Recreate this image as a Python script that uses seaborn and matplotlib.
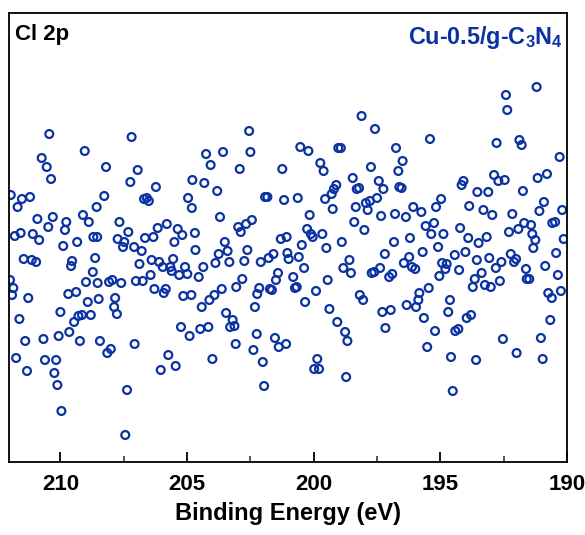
import matplotlib
matplotlib.use("Agg")
import matplotlib.pyplot as plt
import seaborn as sns
import pandas as pd
from matplotlib.ticker import MultipleLocator

# Binding energy (eV) of each measured point
energy = [
211.99,211.96,211.91,211.86,211.80,211.75,211.69,211.62,211.57,211.52,211.45,211.39,211.32,211.27,211.20,211.13,211.09,
210.96,210.91,210.84,210.74,210.67,210.61,210.54,210.48,210.44,210.37,210.30,210.24,210.17,210.12,210.07,210.00,
209.96,209.89,209.82,209.77,209.69,209.65,209.58,209.54,209.46,209.38,209.34,209.29,209.23,209.15,209.11,209.04,
208.99,208.92,208.88,208.80,208.72,208.70,208.63,208.57,208.55,208.53,208.49,208.44,
208.27,208.20,208.15,208.08,208.01,207.95,207.88,207.84,207.77,207.74,207.67,207.60,207.53,207.48,207.44,207.37,
207.32,207.24,207.19,207.09,207.07,207.02,206.95,206.88,206.79,206.75,206.70,206.66,206.59,206.51,206.44,206.40,
206.33,206.29,206.23,206.16,206.10,206.04,205.96,205.92,205.84,205.80,205.74,205.66,205.61,205.55,205.50,205.45,
205.37,205.31,205.24,205.19,205.15,205.08,204.99,204.96,204.90,204.83,204.81,204.79,204.69,204.67,
204.54,204.48,204.42,204.36,204.32,204.25,204.16,204.12,204.07,204.00,203.92,203.88,203.81,203.75,203.70,203.63,
203.58,203.51,203.46,203.40,203.33,203.30,203.20,203.13,203.08,203.06,202.98,202.92,202.88,202.82,202.74,202.67,
202.62,202.55,202.50,202.44,202.38,202.32,202.25,202.23,202.15,202.09,202.01,201.96,201.92,201.83,201.78,201.73,
201.65,201.59,201.53,201.49,201.41,201.38,201.30,201.24,201.17,201.09,201.07,201.04,200.99,
200.81,200.74,200.67,200.63,200.59,200.53,200.47,200.38,200.34,200.26,200.21,200.16,200.11,200.04,199.98,199.91,
199.86,199.79,199.74,199.66,199.61,199.55,199.50,199.45,199.38,199.29,199.25,199.20,199.11,199.07,199.03,198.93,
198.89,198.83,198.76,198.72,198.67,198.59,198.53,198.46,198.40,198.34,198.30,198.21,198.18,198.11,198.05,198.00,
197.94,197.87,197.78,197.74,197.71,197.61,197.58,197.50,197.43,197.38,197.34,197.29,197.25,197.19,197.17,
197.02,196.96,196.90,196.83,196.79,196.75,196.66,196.62,196.53,196.49,196.44,196.36,196.33,196.23,196.20,196.12,
196.07,195.99,195.96,195.87,195.83,195.75,195.70,195.65,195.58,195.52,195.46,195.41,195.36,195.25,195.21,195.17,
195.09,195.04,194.97,194.93,194.88,194.80,194.75,194.69,194.62,194.58,194.51,194.43,194.41,194.29,194.26,194.22,
194.16,194.09,194.01,193.96,193.90,193.86,193.79,193.72,193.64,193.59,193.56,193.54,193.49,
193.37,193.30,193.24,193.17,193.11,193.07,193.01,192.95,192.88,192.81,192.78,192.71,192.65,192.59,192.53,192.46,
192.41,192.36,192.29,192.22,192.16,192.09,192.01,191.99,191.92,191.88,191.79,191.74,191.69,191.62,191.59,191.49,
191.42,191.37,191.33,191.25,191.20,191.16,191.09,191.03,190.96,190.91,190.86,190.79,190.74,190.66,190.60,190.58,
190.47,190.43,190.36,190.29,190.24,190.19,190.13,
]

# Intensity (counts, arbitrary offset) of each point
intensity = [
1185,1270,1170,1177,1229,1107,1258,1146,1232,1266,1206,1124,1094,1167,1268,1205,1231,
1203,1246,1225,1307,1126,1105,1298,1238,1331,1286,1248,1092,1105,1080,1129,1153,
1054,1219,1235,1243,1171,1133,1199,1204,1143,1173,1223,1149,1124,1150,1250,1314,
1183,1163,1243,1150,1193,1228,1207,1258,1228,1182,1166,1124,
1269,1298,1112,1183,1116,1185,1158,1167,1151,1226,1243,1182,1218,1223,1030,1075,
1233,1283,1328,1218,1121,1184,1295,1201,1214,1184,1266,1227,1267,1264,1190,1205,
1228,1176,1278,1237,1203,1095,1198,1172,1176,1241,1110,1198,1194,1206,1223,1099,
1236,1190,1138,1230,1169,1198,1191,1267,1129,1170,1257,1285,1232,1215,
1188,1136,1158,1198,1282,1311,1138,1165,1300,1106,1170,1202,1274,1211,1248,1176,
1313,1223,1152,1214,1203,1138,1145,1139,1121,1178,1238,1296,1233,1186,1204,1241,
1215,1334,1313,1245,1115,1158,1131,1171,1177,1203,1103,1079,1268,1268,1207,1176,
1175,1211,1127,1185,1192,1118,1226,1296,1265,1121,1228,1212,1206,
1188,1177,1178,1267,1208,1318,1220,1197,1163,1236,1314,1250,1231,1228,1096,1174,
1106,1096,1302,1231,1294,1266,1217,1185,1156,1271,1256,1276,1280,1143,1317,1317,
1223,1197,1133,1088,1124,1205,1192,1287,1243,1258,1276,1277,1170,1349,1165,1235,
1262,1255,1264,1298,1192,1193,1336,1267,1284,1197,1249,1153,1276,1211,1137,
1188,1155,1191,1223,1251,1317,1294,1278,1277,1304,1202,1248,1160,1208,1227,1198,
1258,1196,1158,1165,1172,1253,1213,1147,1239,1118,1177,1326,1231,1242,1134,1258,
1218,1189,1266,1202,1231,1196,1201,1153,1165,1108,1074,1210,1134,1136,1195,1237,
1280,1284,1213,1147,1227,1259,1150,1178,1186,1105,1205,1273,1222,
1192,1255,1180,1228,1273,1207,1178,1250,1290,1197,1322,1284,1184,1203,1126,1285,
1370,1355,1233,1211,1251,1203,1206,1112,1236,1325,1320,1274,1242,1196,1186,1186,
1240,1231,1217,1225,1378,1287,1254,1127,1106,1263,1199,1291,1172,1145,1167,1242,
1243,1212,1190,1308,1174,1255,1226,
]

x_ticks = [210, 205, 200, 195, 190]
x_label = "Binding Energy (eV)"
panel_label = "Cl 2p"
sample_label = "Cu-0.5/g-C$_3$N$_4$"

blue = "#0b32a3"

sns.set_theme(style="white")
plt.rcParams["font.family"] = ["Liberation Sans", "DejaVu Sans"]
plt.rcParams["font.weight"] = "bold"
plt.rcParams["text.color"] = "black"
plt.rcParams["axes.labelcolor"] = "black"
plt.rcParams["mathtext.fontset"] = "custom"
plt.rcParams["mathtext.rm"] = "Liberation Sans:bold"
plt.rcParams["mathtext.it"] = "Liberation Sans:bold"
plt.rcParams["mathtext.bf"] = "Liberation Sans:bold"

df = pd.DataFrame({"energy": energy, "intensity": intensity})

fig = plt.figure(figsize=(5.85, 5.35), dpi=100)
ax = fig.add_axes([9 / 585, 73 / 535, 558 / 585, 449 / 535])

sns.scatterplot(data=df, x="energy", y="intensity", ax=ax, marker="o", s=32,
                facecolor="none", edgecolor=blue, linewidth=1.6, legend=False)

ax.set_xlim(212.03, 190)
ax.set_ylim(1003, 1452)
ax.set_xticks(x_ticks)
ax.xaxis.set_minor_locator(MultipleLocator(2.5))
ax.set_yticks([])
ax.tick_params(axis="x", which="major", direction="in", length=7, width=1.3,
               pad=9, labelsize=16, colors="black", bottom=True, top=False)
ax.tick_params(axis="x", which="minor", direction="in", length=4, width=1.1,
               bottom=True, top=False)
for lab in ax.get_xticklabels():
    lab.set_fontweight("bold")
for sp in ax.spines.values():
    sp.set_color("black")
    sp.set_linewidth(1.3)

ax.set_xlabel(x_label, fontsize=17, fontweight="bold", labelpad=5, color="black")
ax.set_ylabel("")

ax.text(0.01, 0.976, panel_label, transform=ax.transAxes, ha="left", va="top",
        fontsize=16, fontweight="bold", color="black")
ax.text(0.993, 0.976, sample_label, transform=ax.transAxes, ha="right", va="top",
        fontsize=16.8, fontweight="bold", color=blue)

fig.savefig("out.png", dpi=100)
